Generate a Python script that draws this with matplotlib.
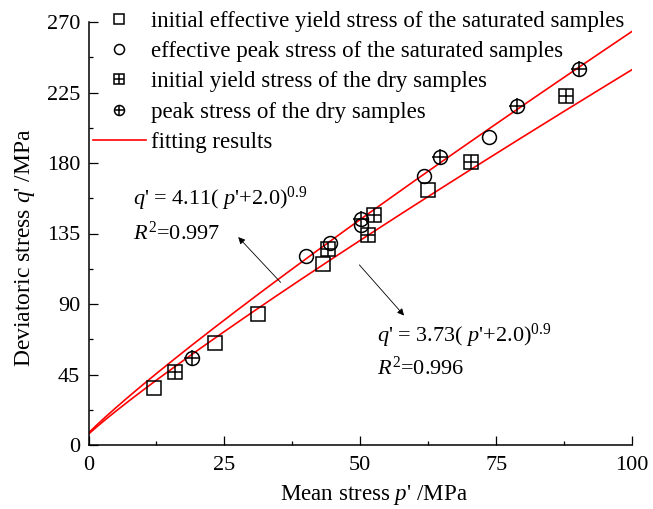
import numpy as np
import matplotlib
matplotlib.use("Agg")
import matplotlib.pyplot as plt
from matplotlib.ticker import MultipleLocator

plt.rcParams['font.family'] = ['Liberation Serif', 'DejaVu Serif']
plt.rcParams['mathtext.fontset'] = 'custom'
plt.rcParams['mathtext.rm'] = 'Liberation Serif'
plt.rcParams['mathtext.it'] = 'Liberation Serif:italic'

# ---- data ----
sat_yield_p = [12.0, 23.2, 31.2, 43.2, 62.5]
sat_yield_q = [36.6, 65.1, 83.8, 115.3, 162.9]

sat_peak_p = [40.0, 44.4, 50.2, 61.8, 73.7]
sat_peak_q = [120.6, 128.9, 140.6, 171.5, 196.6]

dry_yield_p = [15.9, 44.1, 51.4, 52.5, 70.3, 87.8]
dry_yield_q = [46.8, 125.3, 133.8, 147.0, 180.4, 222.5]

dry_peak_p = [19.0, 50.1, 64.7, 78.9, 90.2]
dry_peak_q = [55.7, 144.4, 183.8, 216.3, 239.7]

# fitting equations shown on the chart: q' = a (p' + c)^n
fit_a = [4.11, 3.73]
fit_c = [2.0, 2.0]
fit_n = [0.9, 0.9]
fit_p = np.linspace(0, 100, 201)

legend_labels = ["initial effective yield stress of the saturated samples",
                 "effective peak stress of the saturated samples",
                 "initial yield stress of the dry samples",
                 "peak stress of the dry samples",
                 "fitting results"]

W, H = 653, 509
fig = plt.figure(figsize=(W / 100, H / 100), dpi=100)
ax_l, ax_r, ax_t, ax_b = 88.5, 632, 22, 445
ax = fig.add_axes([ax_l / W, 1 - ax_b / H, (ax_r - ax_l) / W, (ax_b - ax_t) / H])

lines = []
for a, c, n in zip(fit_a, fit_c, fit_n):
    l, = ax.plot(fit_p, a * (fit_p + c) ** n, color='red', lw=1.2, zorder=2)
    lines.append(l)

ms = 10
mew = 1.1
h1, = ax.plot(sat_yield_p, sat_yield_q, ls='none', marker='s', ms=ms, mfc='none', mec='black', mew=mew, zorder=3)
h2, = ax.plot(sat_peak_p, sat_peak_q, ls='none', marker='o', ms=ms, mfc='none', mec='black', mew=mew, zorder=3)
h3a, = ax.plot(dry_yield_p, dry_yield_q, ls='none', marker='s', ms=ms, mfc='none', mec='black', mew=mew, zorder=3)
h3b, = ax.plot(dry_yield_p, dry_yield_q, ls='none', marker='+', ms=ms, mfc='none', mec='black', mew=mew, zorder=3)
h4a, = ax.plot(dry_peak_p, dry_peak_q, ls='none', marker='o', ms=ms, mfc='none', mec='black', mew=mew, zorder=3)
h4b, = ax.plot(dry_peak_p, dry_peak_q, ls='none', marker='+', ms=ms + 1, mfc='none', mec='black', mew=mew, zorder=3)

ax.set_xlim(0, 100)
ax.set_ylim(0, 270)
ax.xaxis.set_major_locator(MultipleLocator(25))
ax.xaxis.set_minor_locator(MultipleLocator(12.5))
ax.yaxis.set_major_locator(MultipleLocator(45))
ax.yaxis.set_minor_locator(MultipleLocator(22.5))
for s in ['top', 'right']:
    ax.spines[s].set_visible(False)
for s in ['left', 'bottom']:
    ax.spines[s].set_linewidth(1.1)
ax.tick_params(which='major', direction='in', length=6.5, width=0.9, labelsize=16)
ax.tick_params(which='minor', direction='in', length=3.2, width=0.9)
ax.tick_params(axis='x', which='major', pad=8)
ax.tick_params(axis='y', which='major', pad=6)

ax.set_ylabel("Deviatoric stress $q$' /MPa", fontsize=17)
ax.yaxis.set_label_coords((37 - ax_l) / (ax_r - ax_l), (ax_b - 248) / (ax_b - ax_t))
ax.set_xlabel("Mean stress $p$' /MPa", fontsize=16.6)
ax.xaxis.label.set_verticalalignment('bottom')
ax.xaxis.set_label_coords(374 / W, 2 / H, transform=fig.transFigure)

leg = ax.legend([h1, h2, (h3a, h3b), (h4a, h4b), lines[0]], legend_labels,
                loc='upper left', bbox_to_anchor=(93 / W, 1 - 11 / H),
                bbox_transform=fig.transFigure, frameon=False, fontsize=16.5,
                borderpad=0, borderaxespad=0, handlelength=2.3, handletextpad=0.25,
                labelspacing=0.4, markerscale=0.72)

ax.text(0.081, 0.568, "$q$' = 4.11( $p$'+2.0)$^{0.9}$", transform=ax.transAxes, fontsize=16)
ax.text(0.081, 0.484, "$R^2$=0.997", transform=ax.transAxes, fontsize=16)
ax.text(0.53, 0.245, "$q$' = 3.73( $p$'+2.0)$^{0.9}$", transform=ax.transAxes, fontsize=16)
ax.text(0.53, 0.165, "$R^2$=0.996", transform=ax.transAxes, fontsize=16)

arr = dict(arrowstyle='-|>', color='black', lw=0.6, mutation_scale=10)
ax.annotate("", xy=(27.2, 134), xytext=(35.7, 102.5), arrowprops=arr)
ax.annotate("", xy=(58.4, 81.3), xytext=(49.5, 116.3), arrowprops=arr)

fig.savefig("out.png", dpi=100, facecolor='white')
